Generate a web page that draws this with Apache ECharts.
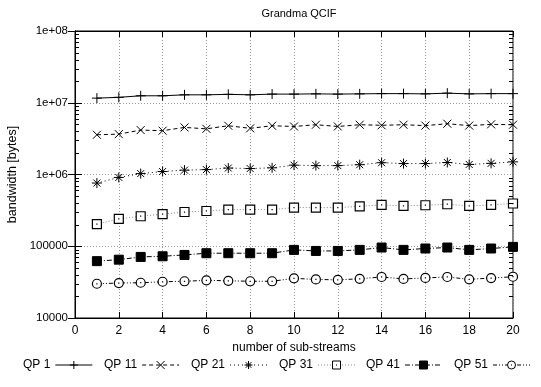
<!DOCTYPE html>
<html><head><meta charset="utf-8">
<script src="https://cdn.jsdelivr.net/npm/echarts@6/dist/echarts.min.js"></script>
<style>html,body{margin:0;padding:0;background:#fff}#c{width:541px;height:387px}</style>
</head><body><div id="c"></div>
<script>
var xValues = [1,2,3,4,5,6,7,8,9,10,11,12,13,14,15,16,17,18,19,20];
var qp1  = [1.16e7,1.19e7,1.25e7,1.25e7,1.29e7,1.29e7,1.31e7,1.29e7,1.32e7,1.32e7,1.33e7,1.32e7,1.33e7,1.34e7,1.34e7,1.33e7,1.36e7,1.33e7,1.34e7,1.34e7];
var qp11 = [3.58e6,3.65e6,4.16e6,4.08e6,4.53e6,4.33e6,4.78e6,4.4e6,4.78e6,4.67e6,4.94e6,4.67e6,4.94e6,4.85e6,4.94e6,4.8e6,5.1e6,4.8e6,5.0e6,4.94e6];
var qp21 = [7.6e5,9.1e5,1.03e6,1.1e6,1.15e6,1.17e6,1.23e6,1.21e6,1.24e6,1.35e6,1.33e6,1.33e6,1.37e6,1.46e6,1.42e6,1.42e6,1.47e6,1.38e6,1.43e6,1.5e6];
var qp31 = [2.03e5,2.4e5,2.62e5,2.8e5,3.0e5,3.1e5,3.24e5,3.24e5,3.24e5,3.46e5,3.46e5,3.46e5,3.6e5,3.77e5,3.65e5,3.73e5,3.85e5,3.65e5,3.77e5,3.94e5];
var qp41 = [6.2e4,6.5e4,7.1e4,7.25e4,7.57e4,8.0e4,8.0e4,8.0e4,8.0e4,8.9e4,8.6e4,8.6e4,8.9e4,9.6e4,8.9e4,9.3e4,9.6e4,8.9e4,9.3e4,9.8e4];
var qp51 = [3.0e4,3.07e4,3.1e4,3.2e4,3.25e4,3.35e4,3.3e4,3.25e4,3.25e4,3.57e4,3.45e4,3.4e4,3.52e4,3.73e4,3.5e4,3.62e4,3.73e4,3.46e4,3.6e4,3.76e4];
var seriesNames = ['QP 1','QP 11','QP 21','QP 31','QP 41','QP 51'];
var yTickLabels = {10000:'10000',100000:'100000',1000000:'1e+06',10000000:'1e+07',100000000:'1e+08'};
var minorDecades = [1e4,1e5,1e6,1e7];
var minorMultipliers = [2,3,4,5,6,7,8,9];

function pairs(arr){ return xValues.map(function(x,i){ return [x, arr[i]]; }); }
var minorData = [];
minorDecades.forEach(function(d){ minorMultipliers.forEach(function(m){ minorData.push([0, d*m]); }); });

var FONT = 'Liberation Sans';
var blk = {color:'#000', borderColor:'#000', borderWidth:1};
var hollow = {color:'#fff', borderColor:'#000', borderWidth:1.2};
function mk(name, data, sym, size, lineStyle, itemStyle){
  return {name:name, type:'line', data:pairs(data), symbol:sym, symbolSize:size,
    lineStyle:lineStyle, itemStyle:itemStyle || blk, emphasis:{disabled:true}, animation:false, z:3};
}
var legendLeft = [23, 104, 191, 279, 366, 454];
var legends = seriesNames.map(function(n, i){
  return {data:[n], top:359, left:legendLeft[i], padding:0, align:'right', itemWidth:37, itemHeight:10,
    itemStyle:{borderWidth:1}, lineStyle:{width:1}, selectedMode:false,
    textStyle:{fontFamily:FONT, fontSize:12, color:'#000'}};
});
var chart = echarts.init(document.getElementById('c'), null, {renderer:'canvas'});
chart.setOption({
  animation:false,
  backgroundColor:'#fff',
  textStyle:{fontFamily:FONT},
  title:{text:'Grandma QCIF', left:294, top:3, textAlign:'center',
    textStyle:{fontFamily:FONT, fontSize:11, fontWeight:'normal', color:'#000'}},
  grid:{left:75, right:28, top:31, bottom:69, show:true, borderColor:'#000', borderWidth:1,
    containLabel:false, outerBoundsMode:'none'},
  legend:legends,
  xAxis:[{type:'value', min:0, max:20, interval:2, position:'bottom',
      name:'number of sub-streams', nameLocation:'middle', nameGap:23,
      nameTextStyle:{fontFamily:FONT, fontSize:12, color:'#000'},
      axisLine:{lineStyle:{color:'#000'}}, axisTick:{inside:true, length:6, lineStyle:{color:'#000'}},
      axisLabel:{fontFamily:FONT, fontSize:12, color:'#000', margin:7},
      splitLine:{show:true, lineStyle:{type:[1,2], color:'#999'}}},
    {type:'value', min:0, max:20, interval:2, position:'top',
      axisLine:{lineStyle:{color:'#000'}}, axisTick:{inside:true, length:6, lineStyle:{color:'#000'}},
      axisLabel:{show:false}, splitLine:{show:false}}],
  yAxis:[{type:'log', logBase:10, min:1e4, max:1e8, position:'left',
      name:'bandwidth [bytes]', nameLocation:'middle', nameGap:49,
      nameTextStyle:{fontFamily:FONT, fontSize:12.5, color:'#000'},
      axisLine:{lineStyle:{color:'#000'}}, axisTick:{inside:true, length:7, lineStyle:{color:'#000'}},
      axisLabel:{fontFamily:FONT, fontSize:11.5, color:'#000', margin:7,
        formatter:function(v){ var k = Math.round(v); return yTickLabels[k] || ''; }},
      splitLine:{show:true, lineStyle:{type:[1,2], color:'#999'}}},
    {type:'log', logBase:10, min:1e4, max:1e8, position:'right',
      axisLine:{lineStyle:{color:'#000'}}, axisTick:{inside:true, length:7, lineStyle:{color:'#000'}},
      axisLabel:{show:false}, splitLine:{show:false}}],
  series:[
    mk('QP 1', qp1, 'path://M0,5L10,5M5,0L5,10', 10, {color:'#000', width:1, type:'solid'}),
    mk('QP 11', qp11, 'path://M0,0L10,10M0,10L10,0', 8, {color:'#000', width:1, type:[4,3]}),
    mk('QP 21', qp21, 'path://M0,5L10,5M5,0L5,10M1.5,1.5L8.5,8.5M1.5,8.5L8.5,1.5', 10, {color:'#000', width:1, type:[1,3]}),
    mk('QP 31', qp31, 'path://M0,0L10,0L10,10L0,10ZM5,4.3L5,5.7', 9, {color:'#888', width:1, type:[1,2]}, hollow),
    mk('QP 41', qp41, 'rect', 9, {color:'#000', width:1, type:[5,2,1,2]}),
    mk('QP 51', qp51, 'path://M10,5A5,5,0,1,1,0,5A5,5,0,1,1,10,5ZM5,4.3L5,5.7', 9, {color:'#000', width:1, type:[4,2,1,2,1,2]}, hollow),
    {type:'custom', name:'minor', silent:true, z:4, clip:false, data:minorData,
      renderItem:function(params, api){
        var v = api.value(1);
        var p1 = api.coord([0, v]); var p2 = api.coord([20, v]);
        var y = Math.round(p1[1]) + 0.5;
        return {type:'group', children:[
          {type:'line', shape:{x1:p1[0], y1:y, x2:p1[0]+4, y2:y}, style:{stroke:'#000', lineWidth:1}},
          {type:'line', shape:{x1:p2[0]-4, y1:y, x2:p2[0], y2:y}, style:{stroke:'#000', lineWidth:1}}
        ]};
      }}
  ]
});
</script></body></html>
